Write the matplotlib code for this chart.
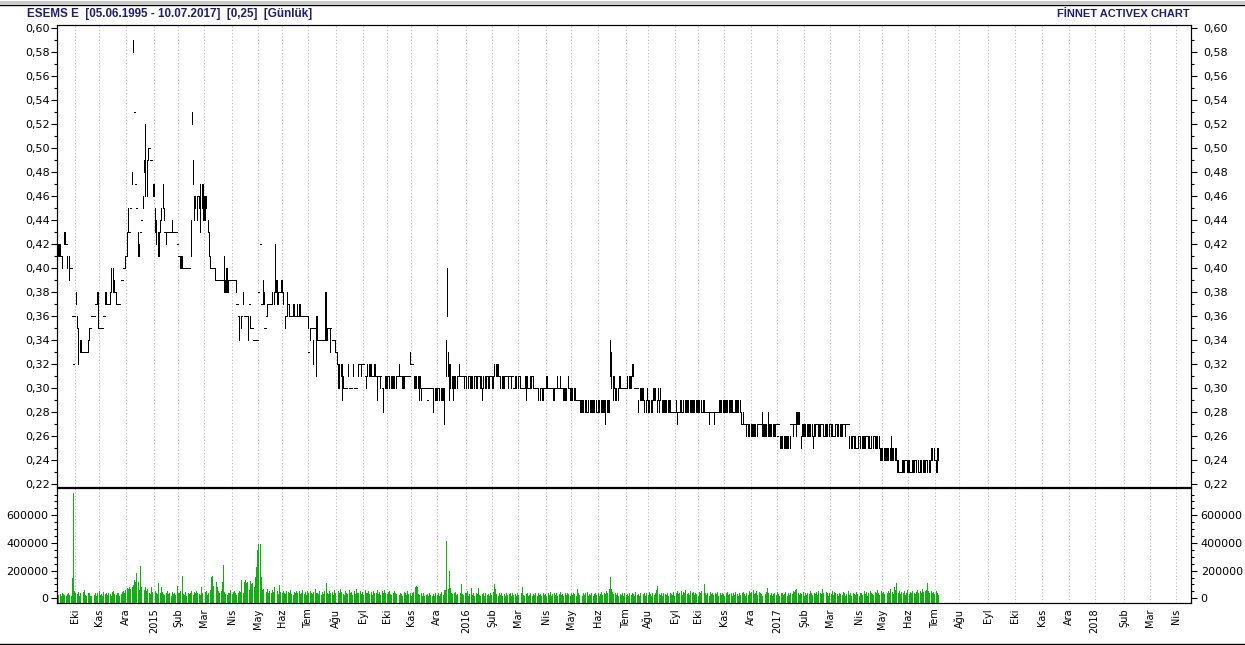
import numpy as np
import matplotlib
matplotlib.use("Agg")
import matplotlib.pyplot as plt
from matplotlib.lines import Line2D
from matplotlib.ticker import MultipleLocator, FuncFormatter

TITLE = "ESEMS E  [05.06.1995 - 10.07.2017]  [0,25]  [Günlük]"
BRAND = "FİNNET ACTIVEX CHART"

# month starts, as trading-day index
MONTH_LABELS = ["Eki", "Kas", "Ara", "2015", "Şub", "Mar", "Nis", "May", "Haz", "Tem",
                "Ağu", "Eyl", "Eki", "Kas", "Ara", "2016", "Şub", "Mar", "Nis", "May",
                "Haz", "Tem", "Ağu", "Eyl", "Eki", "Kas", "Ara", "2017", "Şub", "Mar",
                "Nis", "May", "Haz", "Tem", "Ağu", "Eyl", "Eki", "Kas", "Ara", "2018",
                "Şub", "Mar", "Nis"]
MONTH_POS = [14, 34, 56, 79, 99, 120, 143, 164, 184, 205,
             228, 250, 270, 290, 311, 335, 356, 377, 400, 421,
             443, 466, 484, 506, 525, 546, 568, 590, 612, 633,
             657, 676, 697, 719, 739, 763, 785, 807, 829, 850,
             874, 895, 917]

# daily low / high, in kurus (0.01 TL)
LOW_C = [
    41, 41, 41, 41, 40, 42, 42, 42, 40, 39,  40, 40, 36, 32, 36, 37, 35, 32, 33, 33,
    33, 33, 33, 33, 33, 33, 34, 35, 36, 36,  36, 37, 37, 35, 35, 35, 35, 35, 36, 37,
    37, 37, 37, 37, 38, 38, 38, 38, 37, 37,  37, 37, 39, 39, 40, 40, 41, 41, 43, 43,
    45, 47, 58, 53, 47, 45, 41, 41, 43, 44,  45, 48, 46, 46, 49, 50, 49, 49, 46, 46,
    43, 42, 41, 41, 43, 44, 45, 44, 43, 42,  43, 43, 43, 43, 43, 43, 43, 43, 42, 41,
    40, 40, 40, 40, 40, 40, 40, 40, 40, 41,  52, 47, 44, 45, 44, 46, 45, 43, 45, 44,
    44, 44, 45, 43, 41, 40, 40, 40, 40, 39,  39, 39, 39, 39, 39, 39, 38, 38, 38, 38,
    38, 39, 39, 39, 39, 39, 38, 37, 36, 34,  35, 36, 37, 36, 36, 36, 34, 37, 35, 35,
    35, 34, 34, 34, 34, 38, 42, 37, 37, 37,  35, 36, 36, 37, 37, 37, 37, 37, 38, 38,
    37, 37, 38, 38, 38, 37, 35, 36, 36, 37,  36, 36, 36, 36, 36, 36, 36, 36, 36, 36,
    36, 36, 36, 36, 36, 35, 33, 34, 35, 32,  35, 35, 31, 34, 34, 34, 34, 34, 34, 34,
    34, 34, 35, 33, 35, 34, 34, 33, 33, 32,  30, 30, 31, 29, 30, 30, 30, 30, 31, 30,
    30, 30, 31, 30, 30, 30, 31, 32, 32, 31,  32, 32, 31, 30, 31, 31, 31, 31, 31, 31,
    31, 31, 29, 31, 30, 31, 30, 28, 30, 30,  30, 31, 30, 30, 30, 30, 30, 30, 31, 31,
    31, 31, 30, 30, 30, 31, 31, 31, 31, 32,  32, 32, 30, 30, 30, 30, 29, 30, 29, 30,
    30, 30, 30, 29, 30, 30, 30, 30, 28, 29,  29, 29, 30, 29, 29, 29, 29, 27, 31, 36,
    31, 29, 30, 30, 29, 30, 30, 30, 31, 31,  31, 31, 31, 30, 31, 30, 30, 31, 30, 30,
    30, 30, 31, 30, 30, 31, 30, 30, 29, 30,  30, 30, 31, 30, 30, 31, 30, 30, 31, 31,
    31, 31, 31, 30, 30, 30, 30, 31, 31, 30,  31, 31, 30, 31, 30, 30, 30, 30, 31, 30,
    30, 30, 30, 30, 29, 30, 30, 30, 30, 31,  30, 30, 30, 30, 29, 29, 30, 29, 29, 30,
    30, 30, 30, 30, 30, 30, 29, 29, 30, 30,  30, 30, 30, 30, 29, 29, 29, 29, 30, 30,
    29, 29, 29, 29, 29, 29, 29, 29, 28, 28,  28, 28, 28, 28, 28, 28, 28, 28, 28, 28,
    28, 28, 28, 28, 28, 28, 28, 28, 28, 27,  28, 28, 28, 31, 30, 29, 30, 29, 29, 29,
    30, 30, 30, 30, 30, 30, 30, 30, 30, 30,  30, 31, 31, 30, 30, 30, 28, 29, 29, 29,
    29, 28, 28, 29, 28, 28, 28, 28, 29, 29,  29, 28, 29, 28, 29, 28, 28, 28, 28, 28,
    28, 28, 28, 28, 28, 28, 28, 28, 27, 28,  28, 28, 28, 28, 28, 28, 28, 28, 28, 28,
    28, 28, 28, 28, 28, 28, 28, 28, 28, 28,  28, 28, 28, 28, 27, 28, 28, 28, 27, 28,
    28, 28, 28, 28, 28, 28, 28, 28, 28, 28,  28, 28, 28, 28, 28, 28, 28, 28, 28, 28,
    27, 27, 27, 27, 26, 27, 26, 26, 26, 26,  26, 26, 26, 26, 27, 27, 27, 26, 26, 26,
    26, 26, 26, 26, 26, 26, 26, 26, 26, 27,  26, 27, 25, 25, 25, 25, 25, 25, 25, 25,
    25, 27, 27, 26, 27, 26, 27, 27, 27, 25,  26, 26, 26, 26, 26, 26, 26, 26, 26, 25,
    26, 26, 27, 26, 26, 26, 27, 26, 26, 26,  26, 26, 26, 27, 26, 26, 26, 26, 27, 26,
    26, 26, 26, 26, 27, 26, 27, 27, 27, 25,  25, 25, 26, 25, 25, 25, 25, 26, 25, 25,
    25, 25, 25, 26, 25, 25, 25, 25, 25, 26,  25, 25, 25, 25, 24, 24, 24, 24, 24, 24,
    24, 24, 24, 24, 24, 24, 24, 24, 23, 23,  23, 23, 23, 23, 23, 24, 23, 23, 23, 23,
    23, 23, 23, 24, 23, 23, 23, 23, 23, 23,  23, 23, 24, 23, 23, 23, 24, 24, 24, 24,
    23, 23, 24,
]
HIGH_C = [
    42, 42, 42, 41, 41, 43, 43, 42, 41, 41,  40, 40, 36, 32, 36, 38, 36, 35, 34, 34,
    33, 33, 33, 33, 33, 34, 35, 35, 36, 36,  36, 37, 38, 38, 35, 35, 35, 35, 36, 38,
    38, 37, 37, 38, 40, 40, 39, 38, 38, 37,  37, 37, 39, 39, 40, 41, 41, 43, 45, 43,
    45, 48, 59, 53, 47, 45, 43, 42, 43, 44,  46, 49, 52, 49, 50, 50, 49, 49, 47, 47,
    45, 44, 43, 43, 44, 45, 47, 45, 43, 43,  43, 43, 43, 43, 44, 43, 43, 43, 42, 41,
    41, 41, 41, 40, 40, 40, 40, 40, 40, 44,  53, 49, 46, 46, 46, 46, 46, 47, 47, 47,
    46, 46, 46, 44, 43, 41, 40, 40, 40, 40,  39, 39, 39, 39, 39, 39, 41, 39, 40, 40,
    39, 39, 39, 39, 39, 39, 39, 37, 36, 36,  36, 36, 38, 36, 36, 36, 36, 37, 36, 35,
    35, 34, 34, 34, 34, 38, 42, 37, 39, 38,  35, 36, 37, 37, 37, 37, 38, 38, 42, 39,
    39, 38, 38, 39, 39, 38, 36, 36, 38, 37,  37, 36, 36, 37, 37, 36, 37, 36, 37, 37,
    36, 36, 36, 36, 36, 36, 33, 35, 35, 34,  35, 35, 36, 36, 34, 34, 34, 34, 34, 38,
    38, 35, 35, 35, 35, 34, 34, 34, 33, 33,  32, 32, 32, 32, 31, 30, 30, 30, 32, 30,
    30, 30, 32, 30, 30, 30, 32, 32, 32, 32,  32, 32, 31, 31, 32, 32, 32, 32, 31, 32,
    32, 31, 31, 31, 31, 31, 30, 30, 31, 31,  31, 31, 31, 31, 31, 31, 31, 31, 31, 31,
    32, 31, 31, 31, 31, 31, 31, 31, 31, 33,  32, 32, 31, 31, 31, 31, 31, 31, 30, 30,
    30, 30, 30, 29, 30, 30, 30, 30, 30, 30,  30, 30, 30, 30, 30, 30, 30, 30, 34, 40,
    33, 32, 32, 31, 31, 31, 31, 31, 31, 32,  31, 31, 31, 31, 31, 31, 31, 31, 31, 31,
    31, 31, 31, 31, 31, 31, 31, 31, 30, 31,  31, 31, 31, 31, 31, 31, 31, 31, 32, 32,
    32, 32, 31, 31, 31, 31, 31, 31, 31, 31,  31, 31, 31, 31, 30, 31, 31, 31, 31, 31,
    30, 30, 30, 31, 31, 31, 30, 31, 31, 31,  31, 30, 30, 30, 30, 30, 30, 30, 30, 30,
    31, 31, 30, 30, 30, 30, 30, 30, 30, 31,  30, 30, 31, 30, 30, 30, 30, 30, 31, 30,
    30, 30, 30, 30, 30, 29, 29, 29, 29, 29,  29, 29, 29, 29, 28, 29, 29, 29, 29, 29,
    29, 29, 28, 29, 29, 29, 29, 29, 29, 29,  29, 29, 29, 34, 33, 31, 31, 30, 30, 30,
    31, 31, 30, 30, 30, 30, 30, 31, 31, 31,  31, 32, 32, 30, 30, 30, 29, 30, 30, 30,
    30, 29, 29, 30, 29, 29, 29, 29, 30, 30,  30, 29, 30, 29, 30, 29, 29, 29, 29, 29,
    29, 29, 29, 28, 28, 28, 28, 29, 28, 28,  29, 29, 28, 29, 29, 29, 29, 29, 29, 29,
    29, 29, 29, 29, 29, 29, 29, 29, 28, 29,  29, 28, 28, 28, 28, 28, 28, 28, 28, 28,
    28, 28, 29, 29, 29, 29, 29, 29, 29, 29,  29, 29, 29, 29, 28, 29, 29, 29, 29, 29,
    28, 27, 28, 27, 27, 27, 27, 27, 27, 27,  27, 27, 27, 27, 27, 27, 27, 28, 27, 27,
    27, 27, 28, 27, 27, 27, 27, 27, 27, 27,  26, 27, 26, 26, 26, 26, 26, 26, 26, 26,
    26, 27, 27, 27, 27, 28, 28, 28, 28, 26,  27, 27, 27, 27, 27, 27, 27, 27, 27, 26,
    27, 27, 27, 27, 27, 27, 27, 27, 26, 27,  27, 27, 27, 27, 27, 27, 26, 27, 27, 27,
    27, 27, 27, 27, 27, 27, 27, 27, 27, 26,  26, 26, 26, 26, 26, 25, 26, 26, 26, 26,
    26, 26, 26, 26, 26, 26, 25, 26, 26, 26,  26, 26, 26, 26, 25, 25, 25, 25, 25, 25,
    25, 25, 25, 26, 25, 25, 25, 25, 24, 24,  23, 23, 24, 24, 24, 24, 24, 24, 24, 23,
    24, 24, 24, 24, 24, 24, 23, 24, 24, 24,  24, 24, 24, 24, 24, 24, 25, 25, 25, 24,
    24, 25, 25,
]
# daily volume, thousands of lots
VOL_K = [
    40, 25, 30, 20, 35, 30, 25, 15, 30, 40, 25, 20, 150, 760, 50, 40, 30, 45, 20, 35,
    30, 45, 60, 25, 20, 40, 35, 20, 15, 30, 25, 40, 20, 35, 50, 25, 30, 20, 45, 30,
    35, 25, 40, 30, 20, 45, 55, 30, 25, 40, 35, 20, 30, 45, 50, 40, 60, 75, 70, 85,
    65, 80, 95, 130, 120, 185, 120, 60, 235, 85, 80, 60, 85, 50, 70, 40, 30, 85, 45, 30,
    50, 40, 30, 110, 35, 80, 45, 30, 25, 40, 55, 30, 35, 20, 45, 30, 40, 25, 90, 35,
    40, 50, 160, 30, 25, 45, 20, 35, 30, 40, 55, 25, 45, 35, 50, 40, 30, 25, 85, 40,
    30, 45, 55, 25, 40, 60, 155, 160, 90, 110, 120, 80, 50, 40, 55, 120, 240, 45, 30, 25,
    40, 35, 60, 30, 45, 55, 35, 25, 40, 55, 45, 130, 40, 115, 130, 110, 120, 60, 125, 100,
    110, 80, 155, 225, 350, 393, 393, 155, 60, 70, 50, 45, 65, 40, 55, 35, 60, 45, 80, 40,
    50, 30, 95, 45, 35, 55, 40, 30, 50, 45, 35, 60, 30, 25, 45, 40, 55, 35, 50, 30,
    40, 60, 30, 45, 25, 50, 35, 55, 40, 30, 45, 65, 35, 40, 30, 55, 25, 45, 30, 50,
    110, 40, 30, 55, 35, 45, 25, 60, 40, 30, 50, 35, 70, 45, 30, 25, 55, 40, 30, 60,
    35, 45, 25, 50, 30, 65, 40, 35, 55, 30, 45, 25, 60, 35, 40, 50, 30, 45, 25, 55,
    35, 40, 60, 30, 45, 25, 50, 35, 60, 40, 30, 45, 55, 30, 25, 40, 50, 35, 30, 45,
    25, 40, 30, 20, 45, 35, 25, 50, 30, 40, 20, 35, 45, 85, 90, 85, 30, 25, 40, 20,
    35, 15, 25, 30, 20, 40, 25, 15, 30, 20, 35, 25, 40, 20, 30, 45, 25, 60, 60, 415,
    70, 200, 72, 40, 30, 35, 45, 25, 30, 40, 35, 105, 30, 25, 40, 35, 50, 20, 30, 72,
    25, 35, 20, 40, 30, 72, 25, 15, 30, 35, 20, 40, 25, 30, 20, 35, 25, 45, 105, 70,
    30, 20, 35, 25, 40, 15, 30, 20, 35, 25, 30, 40, 20, 35, 25, 30, 20, 40, 25, 30,
    35, 85, 25, 20, 30, 40, 15, 25, 35, 20, 30, 25, 40, 20, 35, 25, 30, 15, 40, 25,
    30, 20, 35, 25, 45, 20, 30, 40, 25, 35, 20, 30, 45, 25, 30, 20, 35, 25, 40, 30,
    20, 35, 25, 40, 30, 20, 65, 35, 25, 30, 20, 40, 25, 35, 45, 20, 30, 25, 35, 20,
    30, 40, 25, 35, 20, 30, 45, 25, 35, 30, 50, 40, 70, 155, 65, 45, 30, 40, 25, 35,
    20, 30, 25, 40, 20, 35, 25, 30, 20, 40, 25, 35, 30, 20, 45, 25, 30, 20, 35, 25,
    30, 40, 20, 35, 25, 45, 30, 20, 35, 25, 40, 60, 90, 30, 25, 40, 20, 35, 30, 25,
    40, 20, 35, 30, 25, 45, 20, 35, 50, 30, 40, 55, 25, 45, 35, 60, 30, 40, 25, 50,
    35, 45, 25, 40, 30, 20, 45, 35, 55, 30, 105, 40, 25, 35, 20, 45, 30, 40, 25, 35,
    30, 45, 20, 35, 25, 40, 30, 20, 35, 45, 25, 30, 40, 20, 35, 25, 45, 30, 20, 40,
    25, 35, 45, 30, 20, 40, 25, 50, 35, 45, 60, 30, 40, 55, 25, 45, 35, 30, 20, 40,
    30, 45, 77, 35, 25, 40, 20, 30, 35, 25, 45, 30, 20, 35, 40, 25, 30, 45, 20, 35,
    25, 40, 30, 55, 45, 60, 65, 35, 25, 40, 30, 45, 20, 35, 25, 40, 30, 50, 35, 25,
    40, 30, 45, 25, 55, 35, 30, 65, 40, 25, 45, 35, 20, 40, 30, 55, 25, 45, 35, 30,
    20, 40, 30, 25, 45, 35, 20, 30, 50, 25, 35, 20, 40, 30, 25, 45, 30, 20, 35, 40,
    25, 50, 30, 45, 20, 35, 55, 40, 30, 25, 45, 35, 60, 40, 25, 50, 35, 45, 30, 60,
    40, 55, 35, 70, 45, 30, 85, 60, 113, 40, 55, 30, 45, 35, 50, 25, 40, 60, 30, 45,
    35, 55, 40, 30, 45, 60, 35, 50, 40, 70, 45, 55, 60, 110, 50, 40, 55, 35, 45, 30,
    50, 40, 25,
]

n = min(len(LOW_C), len(HIGH_C), len(VOL_K))
days = np.arange(n)
low = np.array(LOW_C[:n]) / 100.0
high = np.array(HIGH_C[:n]) / 100.0
vol = np.array(VOL_K[:n]) * 1000.0

W, H = 1245, 645
FONT = "DejaVu Sans"
NAVY = "#1e1e6e"
GRID = "#b8b8b8"
GREEN = "#12b012"
VOL_FLOOR = -34000


def box(l, t, r, b):
    return [l / W, 1 - b / H, (r - l) / W, (b - t) / H]


fig = plt.figure(figsize=(W / 100, H / 100), dpi=100)
ax = fig.add_axes(box(57, 25, 1191, 487))
axv = fig.add_axes(box(57, 488, 1191, 603), sharex=ax)

# price bars: one 1px line per day, a short dash when high == low
rng = high > low
ax.vlines(days[rng], low[rng], high[rng], color="black", lw=0.5, antialiased=False)
flat = ~rng
ax.hlines(high[flat], days[flat] - 0.45, days[flat] + 0.45, color="black", lw=0.5,
          antialiased=False)

# volume bars
axv.bar(days, vol - VOL_FLOOR, bottom=VOL_FLOOR, width=0.8, color=GREEN, linewidth=0)

for a in (ax, axv):
    a.set_xlim(-0.5, 929)
    a.set_xticks(MONTH_POS)
    a.grid(axis="x", color=GRID, lw=0.8, linestyle=(0, (1, 2)))
    a.set_axisbelow(True)
    for s in a.spines.values():
        s.set_color("black")
        s.set_linewidth(0.8)
    a.tick_params(axis="x", length=0)

ax.tick_params(axis="x", labelbottom=False)
axv.set_xticklabels(MONTH_LABELS, rotation=90, fontsize=7, family=FONT, va="top")
axv.tick_params(axis="x", pad=4)

comma = FuncFormatter(lambda v, _: f"{v:.2f}".replace(".", ","))
intfmt = FuncFormatter(lambda v, _: f"{v:.0f}")

ax_r = ax.twinx()
axv_r = axv.twinx()

for a, pad, fmt, maj, mnr in ((ax, 1, comma, 0.02, 0.01), (ax_r, 5, comma, 0.02, 0.01),
                               (axv, 2, intfmt, 200000, 50000), (axv_r, 3, intfmt, 200000, 50000)):
    a.yaxis.set_major_locator(MultipleLocator(maj))
    a.yaxis.set_minor_locator(MultipleLocator(mnr))
    a.yaxis.set_major_formatter(fmt)
    a.tick_params(axis="y", which="major", length=4, width=0.8, pad=pad, labelsize=8)
    a.tick_params(axis="y", which="minor", length=2.5, width=0.8)
    for lab in a.get_yticklabels():
        lab.set_family(FONT)

ax.set_ylim(0.2178, 0.6028)
ax_r.set_ylim(0.2178, 0.6028)
axv.set_ylim(VOL_FLOOR, 797000)
axv_r.set_ylim(VOL_FLOOR, 797000)

# header
fig.text(27 / W, 1 - 14 / H, TITLE, fontsize=8.4, weight="bold", color=NAVY,
         family="Liberation Sans", va="center", ha="left")
fig.text(1190 / W, 1 - 14 / H, BRAND, fontsize=8, weight="bold", color=NAVY,
         family="Liberation Sans", va="center", ha="right")

# window frame lines
fig.add_artist(Line2D([0, 1], [1 - 1.5 / H] * 2, color="#c8c8c8", lw=2))
fig.add_artist(Line2D([0, 1], [1 - 4.5 / H] * 2, color="black", lw=1))
fig.add_artist(Line2D([0, 1], [1 - 643.5 / H] * 2, color="black", lw=1))

fig.savefig("out.png", dpi=100)
